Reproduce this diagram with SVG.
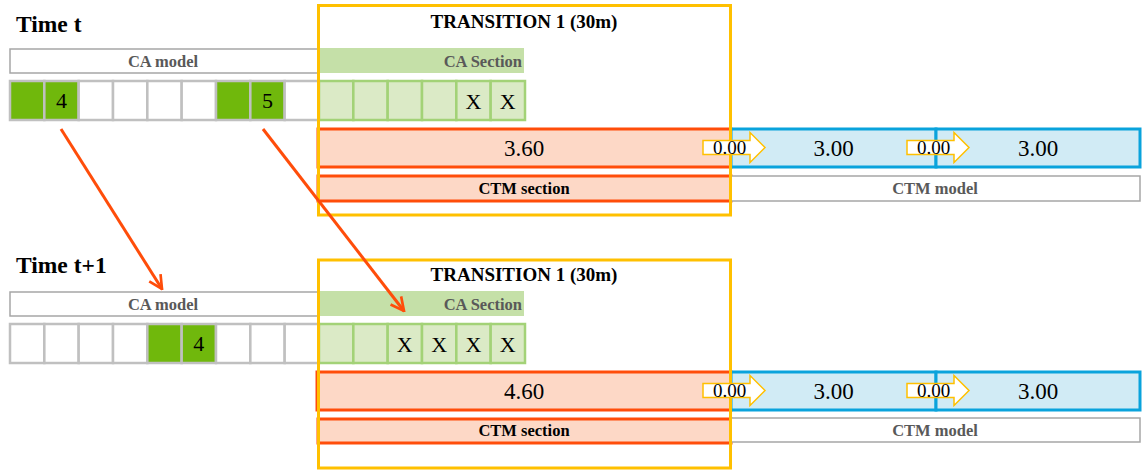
<svg xmlns="http://www.w3.org/2000/svg" width="1142" height="472" viewBox="0 0 1142 472" font-family="Liberation Serif, Times New Roman, serif">
<style>
text{font-family:'Liberation Serif','Times New Roman',serif;}
.title{font-size:23.5px;font-weight:bold;fill:#000;}
.trans{font-size:19px;font-weight:bold;fill:#000;text-anchor:middle;}
.lbl{font-size:16.5px;font-weight:bold;fill:#595959;}
.num{font-size:22px;fill:#000;text-anchor:middle;}
.val{font-size:23px;fill:#000;text-anchor:middle;}
.small{font-size:19px;fill:#000;text-anchor:middle;}
.ctmsec{font-size:16.5px;font-weight:bold;fill:#000;text-anchor:middle;}
.camodel{fill:#fff;stroke:#a6a6a6;stroke-width:1.5;}
.casec{fill:#c5e0a8;}
.gc{fill:#fff;stroke:#c0c0c0;stroke-width:2.5;}
.gd{fill:#70b80c;stroke:#c0c0c0;stroke-width:2.5;}
.lc{fill:#dbeac6;stroke:#a3d277;stroke-width:2.5;}
.red{fill:#fdd8c6;stroke:#ff4d0a;stroke-width:3;}
.blue{fill:#d1ebf5;stroke:#0aa3dc;stroke-width:3;}
.yel{fill:none;stroke:#ffc000;stroke-width:3;}
.flow{fill:#fff;stroke:#ffc000;stroke-width:1.5;}
.conn{stroke:#ff4d0a;stroke-width:3;fill:none;marker-end:url(#ah);}
</style>
<defs>
<marker id="ah" viewBox="0 0 12 12" refX="11" refY="6" markerWidth="16" markerHeight="16" markerUnits="userSpaceOnUse" orient="auto">
<path d="M1,1 L11,6 L1,11" fill="none" stroke="#ff4d0a" stroke-width="2"/>
</marker>
<polygon id="flowArrow" points="0,-7 47,-7 47,-15 62,0 47,15 47,7 0,7"/>
</defs>

<!-- ===== Time t ===== -->
<g id="time-t-label"><text class="title" x="16" y="31.5">Time t</text></g>

<g id="ca-model-t">
<rect class="camodel" x="10" y="49" width="308" height="24"/>
<text class="lbl" x="163" y="66.5" text-anchor="middle">CA model</text>
</g>

<g id="ca-section-t">
<rect class="casec" x="318" y="48" width="206" height="25"/>
<text class="lbl" x="522" y="67" text-anchor="end">CA Section</text>
</g>

<g id="cells-t">
<rect class="gd" x="10" y="81" width="34.33" height="39"/>
<rect class="gd" x="44.33" y="81" width="34.33" height="39"/>
<rect class="gc" x="78.67" y="81" width="34.33" height="39"/>
<rect class="gc" x="113" y="81" width="34.33" height="39"/>
<rect class="gc" x="147.33" y="81" width="34.33" height="39"/>
<rect class="gc" x="181.67" y="81" width="34.33" height="39"/>
<rect class="gd" x="216" y="81" width="34.33" height="39"/>
<rect class="gd" x="250.33" y="81" width="34.33" height="39"/>
<rect class="gc" x="284.67" y="81" width="34.33" height="39"/>
<rect class="lc" x="319" y="81" width="34.33" height="39"/>
<rect class="lc" x="353.33" y="81" width="34.33" height="39"/>
<rect class="lc" x="387.67" y="81" width="34.33" height="39"/>
<rect class="lc" x="422" y="81" width="34.33" height="39"/>
<rect class="lc" x="456.33" y="81" width="34.33" height="39"/>
<rect class="lc" x="490.67" y="81" width="34.33" height="39"/>
<text class="num" x="61.5" y="108">4</text>
<text class="num" x="267.5" y="108">5</text>
<text class="num" x="473.5" y="108.5">X</text>
<text class="num" x="507.8" y="108.5">X</text>
</g>

<g id="ctm-cells-t">
<rect class="red" x="318" y="129" width="413" height="38"/>
<text class="val" x="524" y="156">3.60</text>
<rect class="blue" x="731" y="129" width="205" height="38"/>
<rect class="blue" x="936" y="129" width="204" height="38"/>
<text class="val" x="833.5" y="156">3.00</text>
<text class="val" x="1038" y="156">3.00</text>
</g>

<g id="ctm-section-t">
<rect class="red" x="318" y="176" width="413" height="25"/>
<text class="ctmsec" x="524" y="193.5">CTM section</text>
</g>

<g id="ctm-model-t">
<rect class="camodel" x="731" y="176" width="409" height="25"/>
<text class="lbl" x="935" y="193.5" text-anchor="middle">CTM model</text>
</g>

<g id="transition-t">
<rect class="yel" x="318.5" y="5.5" width="412" height="209.5"/>
<text class="trans" x="524" y="28">TRANSITION 1 (30m)</text>
</g>

<g id="flow-t">
<use href="#flowArrow" class="flow" x="703" y="147.5"/>
<use href="#flowArrow" class="flow" x="907" y="147.5"/>
<text class="small" x="729.5" y="154">0.00</text>
<text class="small" x="933.5" y="154">0.00</text>
</g>

<!-- ===== Time t+1 ===== -->
<g id="time-t1-label"><text class="title" x="16" y="273">Time t+1</text></g>

<g id="ca-model-t1">
<rect class="camodel" x="10" y="292" width="308" height="24"/>
<text class="lbl" x="163" y="309.5" text-anchor="middle">CA model</text>
</g>

<g id="ca-section-t1">
<rect class="casec" x="318" y="291" width="206" height="25"/>
<text class="lbl" x="522" y="310" text-anchor="end">CA Section</text>
</g>

<g id="cells-t1">
<rect class="gc" x="10" y="324" width="34.33" height="39"/>
<rect class="gc" x="44.33" y="324" width="34.33" height="39"/>
<rect class="gc" x="78.67" y="324" width="34.33" height="39"/>
<rect class="gc" x="113" y="324" width="34.33" height="39"/>
<rect class="gd" x="147.33" y="324" width="34.33" height="39"/>
<rect class="gd" x="181.67" y="324" width="34.33" height="39"/>
<rect class="gc" x="216" y="324" width="34.33" height="39"/>
<rect class="gc" x="250.33" y="324" width="34.33" height="39"/>
<rect class="gc" x="284.67" y="324" width="34.33" height="39"/>
<rect class="lc" x="319" y="324" width="34.33" height="39"/>
<rect class="lc" x="353.33" y="324" width="34.33" height="39"/>
<rect class="lc" x="387.67" y="324" width="34.33" height="39"/>
<rect class="lc" x="422" y="324" width="34.33" height="39"/>
<rect class="lc" x="456.33" y="324" width="34.33" height="39"/>
<rect class="lc" x="490.67" y="324" width="34.33" height="39"/>
<text class="num" x="198.8" y="351">4</text>
<text class="num" x="404.8" y="351.5">X</text>
<text class="num" x="439.2" y="351.5">X</text>
<text class="num" x="473.5" y="351.5">X</text>
<text class="num" x="507.8" y="351.5">X</text>
</g>

<g id="ctm-cells-t1">
<rect class="red" x="317" y="372" width="414" height="38"/>
<text class="val" x="524" y="399">4.60</text>
<rect class="blue" x="731" y="372" width="205" height="38"/>
<rect class="blue" x="936" y="372" width="204" height="38"/>
<text class="val" x="833.5" y="399">3.00</text>
<text class="val" x="1038" y="399">3.00</text>
</g>

<g id="ctm-section-t1">
<rect class="red" x="318" y="419" width="413" height="24"/>
<text class="ctmsec" x="524" y="436">CTM section</text>
</g>

<g id="ctm-model-t1">
<rect class="camodel" x="731" y="418" width="409" height="24"/>
<text class="lbl" x="935" y="436" text-anchor="middle">CTM model</text>
</g>

<g id="transition-t1">
<rect class="yel" x="318.5" y="260" width="412" height="208"/>
<text class="trans" x="524" y="281">TRANSITION 1 (30m)</text>
</g>

<g id="flow-t1">
<use href="#flowArrow" class="flow" x="703" y="390.5"/>
<use href="#flowArrow" class="flow" x="907" y="390.5"/>
<text class="small" x="729.5" y="397">0.00</text>
<text class="small" x="933.5" y="397">0.00</text>
</g>

<!-- ===== connectors ===== -->
<g id="connectors">
<line class="conn" x1="61" y1="129" x2="162" y2="289"/>
<line class="conn" x1="263" y1="129" x2="404" y2="311"/>
</g>
</svg>
